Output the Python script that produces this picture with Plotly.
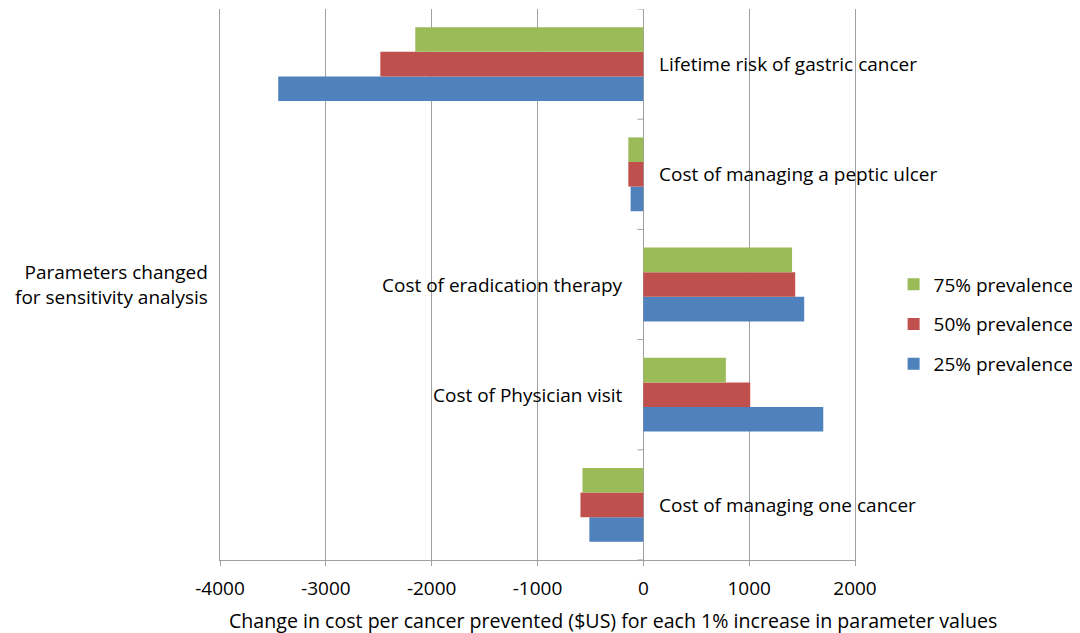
import plotly.graph_objects as go

categories = [
    "Lifetime risk of gastric cancer",
    "Cost of managing a peptic ulcer",
    "Cost of eradication therapy",
    "Cost of Physician visit",
    "Cost of managing one cancer",
]
prev25 = [-3450, -120, 1520, 1700, -510]
prev50 = [-2485, -142, 1435, 1010, -594]
prev75 = [-2155, -142, 1405, 780, -575]

tick_values = [-4000, -3000, -2000, -1000, 0, 1000, 2000]
tick_labels = ["-4000", "-3000", "-2000", "-1000", "0", "1000", "2000"]

series = [
    ("25% prevalence", prev25, "#4F81BD", 3),
    ("50% prevalence", prev50, "#C0504D", 2),
    ("75% prevalence", prev75, "#9BBB59", 1),
]

FONT = "Open Sans"
FS = 19
fig = go.Figure()
for name, vals, col, rank in series:
    fig.add_trace(go.Bar(
        y=categories, x=vals, name=name, orientation="h",
        marker=dict(color=col, line=dict(width=0)),
        legendgroup=name, legendrank=rank,
    ))

fig.update_layout(
    width=1080, height=633,
    margin=dict(l=212, r=233, t=1, b=81),
    plot_bgcolor="white", paper_bgcolor="white",
    barmode="group", bargap=0.33, bargroupgap=0,
    font=dict(family=FONT, size=FS, color="black"),
    legend=dict(
        xref="container", yref="container",
        x=0.82, y=0.5, xanchor="left", yanchor="middle",
        traceorder="grouped", tracegroupgap=12,
        font=dict(size=FS, family=FONT),
        itemwidth=30, bgcolor="rgba(0,0,0,0)",
    ),
    showlegend=True,
)
fig.update_xaxes(
    range=[-4000, 2000], tickvals=tick_values, ticktext=tick_labels,
    showgrid=True, gridcolor="#A0A0A0", gridwidth=1,
    zeroline=True, zerolinecolor="#A0A0A0", zerolinewidth=1,
    showline=True, linecolor="#A0A0A0", linewidth=1,
    ticks="outside", ticklen=5, tickcolor="#A0A0A0",
    ticklabelstandoff=6,
    tickfont=dict(size=FS, family=FONT),
    automargin=False,
)
fig.update_yaxes(
    categoryorder="array", categoryarray=list(reversed(categories)),
    range=[-0.5, len(categories) - 0.5],
    showticklabels=False, showgrid=False, zeroline=False,
    showline=True, mirror=True, linecolor="#A0A0A0", linewidth=1,
    automargin=False,
)

# x axis title (offset to the right as in the original)
fig.add_annotation(
    x=0.619, y=0, xref="paper", yref="paper", yshift=-60,
    text="Change in cost per cancer prevented ($US) for each 1% increase in parameter values",
    showarrow=False, xanchor="center", yanchor="middle",
    font=dict(size=19.6, family=FONT),
)

# category boundary tick marks on the zero axis
for k in range(len(categories) + 1):
    fig.add_shape(type="line", xref="x", yref="y",
                  x0=-55, x1=0, y0=k - 0.5, y1=k - 0.5,
                  line=dict(color="#A0A0A0", width=1))

# category labels next to the zero axis, opposite the bars
for cat, a, b, c in zip(categories, prev25, prev50, prev75):
    neg = (a + b + c) < 0
    fig.add_annotation(
        x=0, y=cat, xref="x", yref="y", text=cat, showarrow=False,
        xanchor="left" if neg else "right",
        xshift=14 if neg else -18,
        font=dict(size=FS, family=FONT),
    )

fig.add_annotation(
    x=-0.016, y=0.5, xref="paper", yref="paper",
    text="Parameters changed<br>for sensitivity analysis",
    showarrow=False, xanchor="right", yanchor="middle", align="right",
    font=dict(size=FS, family=FONT),
)

fig.write_html("out.html")
